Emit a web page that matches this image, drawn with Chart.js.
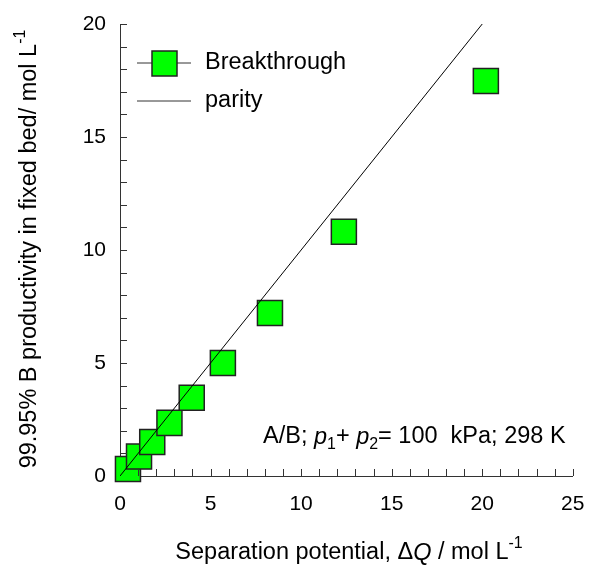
<!DOCTYPE html>
<html>
<head>
<meta charset="utf-8">
<script src="https://cdn.jsdelivr.net/npm/chart.js@4.4.1/dist/chart.umd.min.js"></script>
<style>
  html, body { margin: 0; padding: 0; background: #fff; }
  #wrap { width: 592px; height: 571px; }
</style>
</head>
<body>
<div id="wrap"><canvas id="chart" width="592" height="571"></canvas></div>
<script>
// data
const sepPotential = [0.44, 1.05, 1.78, 2.73, 3.96, 5.68, 8.28, 12.36, 20.2];
const productivity = [0.31, 0.86, 1.5, 2.35, 3.46, 5.0, 7.21, 10.81, 17.48];
const parityX = [0, 20];
const xTicks = [0, 5, 10, 15, 20, 25];
const yTicks = [0, 5, 10, 15, 20];

const FONT = '"Liberation Sans", Arial, sans-serif';
const TXT = 23.5;

// draw a run of text parts: {t, it, sub, sup}
function richText(ctx, parts, x, y, size) {
  let cx = x;
  parts.forEach(p => {
    const s = (p.sub || p.sup) ? size * 0.68 : size;
    ctx.font = (p.it ? 'italic ' : '') + s + 'px ' + FONT;
    let dy = 0;
    if (p.sub) dy = size * 0.32;
    if (p.sup) dy = -size * 0.42;
    ctx.fillText(p.t, cx, y + dy);
    cx += ctx.measureText(p.t).width;
  });
  return cx - x;
}
function richWidth(ctx, parts, size) {
  let w = 0;
  parts.forEach(p => {
    const s = (p.sub || p.sup) ? size * 0.68 : size;
    ctx.font = (p.it ? 'italic ' : '') + s + 'px ' + FONT;
    w += ctx.measureText(p.t).width;
  });
  return w;
}

const extras = {
  id: 'extras',
  afterDraw(chart) {
    const ctx = chart.ctx;
    const xs = chart.scales.x, ys = chart.scales.y;
    const area = chart.chartArea;
    ctx.save();
    // inward ticks every 1 unit
    ctx.strokeStyle = '#333';
    ctx.lineWidth = 1;
    ctx.beginPath();
    for (let v = 1; v <= 25; v++) {
      const px = Math.round(xs.getPixelForValue(v)) + 0.5;
      ctx.moveTo(px, area.bottom);
      ctx.lineTo(px, area.bottom - 7);
    }
    for (let v = 1; v <= 20; v++) {
      const py = Math.round(ys.getPixelForValue(v)) + 0.5;
      ctx.moveTo(area.left, py);
      ctx.lineTo(area.left + 7, py);
    }
    ctx.stroke();

    ctx.fillStyle = '#000';
    ctx.textBaseline = 'middle';
    ctx.textAlign = 'left';

    // legend
    const lx0 = 137, lx1 = 191, ly1 = 63, ly2 = 101;
    ctx.strokeStyle = '#333';
    ctx.lineWidth = 1;
    ctx.beginPath();
    ctx.moveTo(lx0, ly1); ctx.lineTo(lx1, ly1);
    ctx.moveTo(lx0, ly2); ctx.lineTo(lx1, ly2);
    ctx.stroke();
    ctx.fillStyle = '#00ff00';
    ctx.fillRect(152, 51, 25, 25);
    ctx.strokeStyle = '#222';
    ctx.lineWidth = 1.5;
    ctx.strokeRect(152, 51, 25, 25);
    ctx.fillStyle = '#000';
    ctx.font = TXT + 'px ' + FONT;
    ctx.fillText('Breakthrough', 205, ly1);
    ctx.fillText('parity', 205, ly2);

    // annotation
    richText(ctx, [
      {t: 'A/B; '}, {t: 'p', it: true}, {t: '1', sub: true}, {t: '+ '},
      {t: 'p', it: true}, {t: '2', sub: true}, {t: '= 100  kPa; 298 K'}
    ], 263, 437, TXT);

    // x title
    const xt = [{t: 'Separation potential, \u0394'}, {t: 'Q', it: true}, {t: ' / mol L'}, {t: '-1', sup: true}];
    const xw = richWidth(ctx, xt, TXT);
    richText(ctx, xt, 349 - xw / 2, 553, TXT);

    // y title
    const yt = [{t: '99.95% B productivity in fixed bed/ mol L'}, {t: '-1', sup: true}];
    const yw = richWidth(ctx, yt, TXT);
    ctx.translate(30, 249);
    ctx.rotate(-Math.PI / 2);
    richText(ctx, yt, -yw / 2, 0, TXT);
    ctx.restore();
  }
};

new Chart(document.getElementById('chart'), {
  type: 'scatter',
  data: {
    datasets: [
      {
        label: 'parity',
        type: 'line',
        data: parityX.map(v => ({x: v, y: v})),
        borderColor: '#000',
        borderWidth: 1,
        pointRadius: 0,
        fill: false,
        order: 0
      },
      {
        label: 'Breakthrough',
        data: sepPotential.map((v, i) => ({x: v, y: productivity[i]})),
        pointStyle: 'rect',
        pointRadius: 17.7,
        pointHoverRadius: 17.7,
        backgroundColor: '#00ff00',
        borderColor: '#222',
        borderWidth: 1.5,
        clip: false,
        order: 1
      }
    ]
  },
  options: {
    responsive: false,
    animation: false,
    events: [],
    layout: { padding: { left: 0, top: 24, right: 19, bottom: 0 } },
    plugins: { legend: { display: false }, tooltip: { enabled: false } },
    scales: {
      x: {
        type: 'linear',
        min: 0, max: 25,
        afterBuildTicks: s => { s.ticks = xTicks.map(v => ({value: v})); },
        afterFit: s => { s.height = 95; s.paddingRight = 0; s.paddingLeft = 0; },
        grid: { display: false, drawTicks: false },
        border: { display: true, color: '#333', width: 1 },
        ticks: { color: '#000', padding: 16, font: { family: FONT, size: 21 }, maxRotation: 0 }
      },
      y: {
        type: 'linear',
        min: 0, max: 20,
        afterBuildTicks: s => { s.ticks = yTicks.map(v => ({value: v})); },
        afterFit: s => { s.width = 120; s.paddingTop = 0; s.paddingBottom = 0; },
        grid: { display: false, drawTicks: false },
        border: { display: true, color: '#333', width: 1 },
        ticks: { color: '#000', padding: 14, font: { family: FONT, size: 21 } }
      }
    }
  },
  plugins: [extras]
});
</script>
</body>
</html>
